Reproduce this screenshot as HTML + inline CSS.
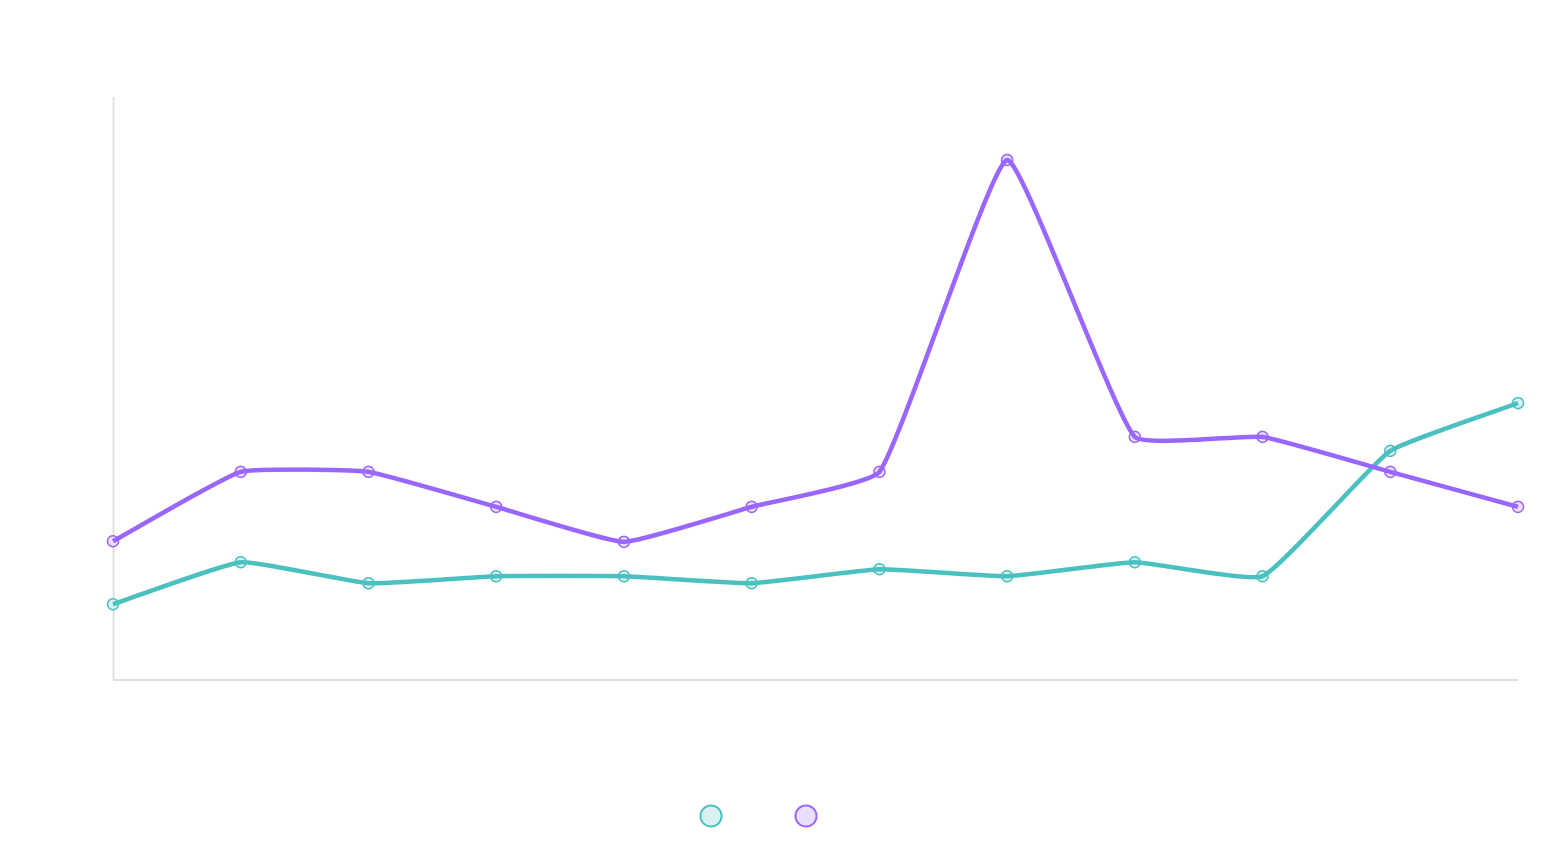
<!DOCTYPE html>
<html><head><meta charset="utf-8"><style>
html,body{margin:0;padding:0;background:#fff;}
svg{display:block;font-family:"Liberation Sans",sans-serif;}
</style></head><body>
<svg id="chart" width="1564" height="850">
<line x1="113.5" y1="97" x2="113.5" y2="680" stroke="#e0e0e0" stroke-width="2"/>
<line x1="113" y1="680" x2="1518" y2="680" stroke="#e0e0e0" stroke-width="2"/>
<g id="series"></g>
<circle cx="711" cy="816" r="10.5" fill="#d9f1f1" stroke="#4bc0c0" stroke-width="2"/>
<circle cx="806" cy="816" r="10.5" fill="#ebe0ff" stroke="#9966ff" stroke-width="2"/>
</svg>
<script>
const categories = [1,2,3,4,5,6,7,8,9,10,11,12];
const seriesTeal = [13.0,20.2,16.6,17.8,17.8,16.6,19.0,17.8,20.2,17.8,39.3,47.5];
const seriesPurple = [23.8,35.7,35.7,29.7,23.7,29.7,35.7,89.2,41.7,41.7,35.7,29.7];
const yMin = 0, yMax = 100;

const X0=113, X1=1518, Y0=680, Y1=97;
function xScale(i){ return X0 + (X1-X0)*i/(categories.length-1); }
function yScale(v){ return Y0 - (Y0-Y1)*(v-yMin)/(yMax-yMin); }

function splinePath(pts,t){
  const n=pts.length, cp=[];
  for(let i=0;i<n;i++){
    const p=pts[Math.max(0,i-1)], c=pts[i], nx=pts[Math.min(n-1,i+1)];
    const d01=Math.hypot(c[0]-p[0],c[1]-p[1]), d12=Math.hypot(nx[0]-c[0],nx[1]-c[1]);
    let fa=d01/(d01+d12||1), fb=d12/(d01+d12||1);
    fa*=t; fb*=t;
    cp.push({p:[c[0]-fa*(nx[0]-p[0]), c[1]-fa*(nx[1]-p[1])], n:[c[0]+fb*(nx[0]-p[0]), c[1]+fb*(nx[1]-p[1])]});
  }
  let s='M'+pts[0][0]+','+pts[0][1];
  for(let i=0;i<n-1;i++){
    s+=' C'+cp[i].n[0]+','+cp[i].n[1]+' '+cp[i+1].p[0]+','+cp[i+1].p[1]+' '+pts[i+1][0]+','+pts[i+1][1];
  }
  return s;
}
const NS='http://www.w3.org/2000/svg';
const g=document.getElementById('series');
function draw(vals,color,fill,name){
  const pts=vals.map((v,i)=>[xScale(i),yScale(v)]);
  pts.forEach((pt,i)=>{
    const c=document.createElementNS(NS,'circle');
    c.setAttribute('cx',pt[0]);c.setAttribute('cy',pt[1]);c.setAttribute('r','5.5');
    c.setAttribute('fill',fill);c.setAttribute('stroke',color);c.setAttribute('stroke-width','1.5');
    
    
    g.appendChild(c);
  });
  const p=document.createElementNS(NS,'path');
  p.setAttribute('d',splinePath(pts,0.12));
  p.setAttribute('fill','none');p.setAttribute('stroke',color);p.setAttribute('stroke-width','4.5');
  p.setAttribute('stroke-linejoin','round');
  
  
  g.appendChild(p);
}
draw(seriesTeal,'#4bc0c0','#d9f1f1','series-1');
draw(seriesPurple,'#9966ff','#ebe0ff','series-2');
</script>
</body></html>
